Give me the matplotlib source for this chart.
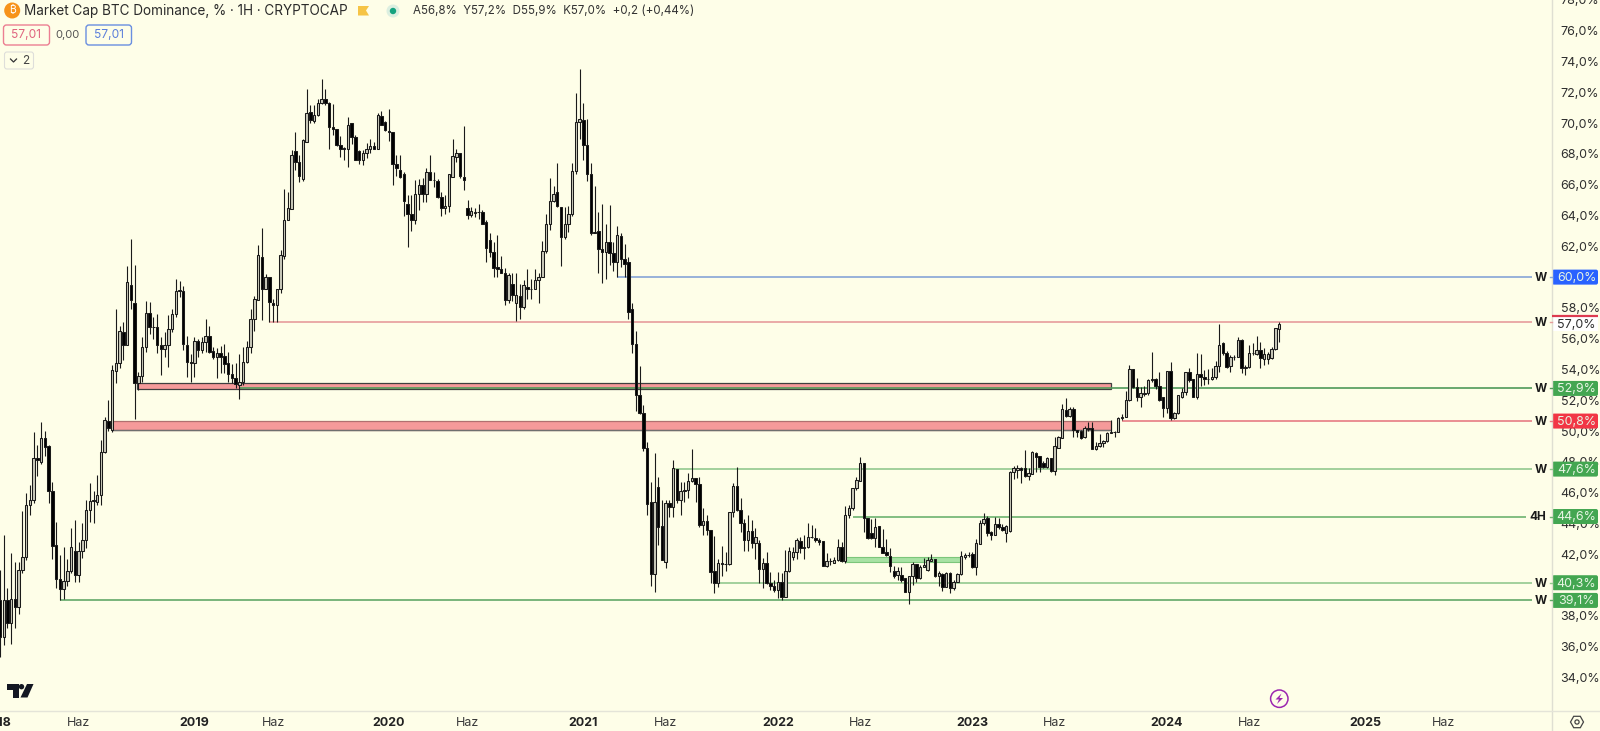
import matplotlib
matplotlib.use("Agg")
import matplotlib.pyplot as plt
from matplotlib.patches import Circle, FancyBboxPatch, Polygon, Rectangle

plt.rcParams["font.family"] = ["Inter", "DejaVu Sans"]

BG = "#fefee8"
TEXT = "#2f2f2f"

# weekly candles, % dominance
opens = [
    39.03, 36.65, 39.03, 37.56, 39.1, 38.55, 41.0, 41.85, 45.2, 45.5,
    48.23, 48.0, 49.55, 49.03, 46.13, 42.6, 40.37, 39.72, 40.24, 40.93,
    42.2, 40.65, 42.2, 42.9, 44.9, 45.45, 45.4, 45.85, 48.65, 50.67,
    50.06, 53.92, 54.4, 56.45, 55.6, 59.5, 58.3, 53.1, 53.57, 55.47,
    57.64, 56.73, 56.77, 55.6, 55.3, 55.6, 56.6, 57.6, 59.1, 59.1,
    55.58, 54.5, 54.4, 55.86, 55.26, 55.8, 56.2, 55.2, 54.83, 55.04,
    54.87, 54.44, 53.7, 53.42, 53.0, 53.2, 54.5, 55.43, 57.3, 58.5,
    61.3, 59.26, 59.98, 58.35, 58.2, 59.2, 61.4, 63.74, 64.4, 68.2,
    67.5, 66.4, 68.8, 70.73, 70.13, 70.56, 71.28, 71.6, 71.34, 69.76,
    69.6, 68.6, 68.4, 68.29, 69.98, 69.11, 68.2, 67.6, 68.07, 68.29,
    68.53, 68.35, 70.45, 70.09, 69.5, 69.44, 67.34, 66.99, 66.69, 64.74,
    64.09, 63.7, 65.43, 65.97, 65.39, 66.8, 66.3, 66.25, 65.22, 64.46,
    64.6, 66.5, 67.8, 68.03, 66.5, 64.5, 64.03, 64.15, 64.2, 64.24,
    63.59, 62.4, 61.65, 60.63, 60.5, 60.24, 58.5, 59.54, 58.33, 58.76,
    58.03, 59.37, 59.2, 59.24, 59.8, 60.02, 61.71, 63.48, 64.93, 65.5,
    64.57, 62.62, 63.48, 64.13, 66.88, 70.09, 70.2, 68.6, 66.73, 62.88,
    62.98, 61.8, 61.6, 62.29, 61.58, 61.0, 62.66, 61.2, 60.95, 57.9,
    55.63, 52.34, 51.15, 48.87, 45.41, 40.71, 46.38, 43.85, 41.5, 45.3,
    45.04, 47.53, 45.52, 46.1, 46.17, 46.77, 46.93, 46.54, 43.9, 44.18,
    43.57, 40.93, 40.15, 41.4, 41.34, 41.34, 44.72, 46.43, 44.87, 44.0,
    42.92, 43.53, 42.7, 42.7, 41.02, 41.4, 40.15, 39.93, 39.67, 40.2,
    39.24, 40.93, 41.85, 42.16, 42.86, 42.38, 42.45, 43.14, 43.03, 42.92,
    42.86, 41.26, 41.58, 41.45, 41.62, 42.49, 41.58, 44.54, 44.98, 46.28,
    46.77, 47.94, 44.33, 43.4, 43.08, 43.83, 42.5, 42.17, 41.89, 40.9,
    40.65, 40.65, 40.44, 39.57, 40.59, 41.35, 40.44, 41.2, 40.98, 41.58,
    41.67, 40.59, 40.7, 39.9, 40.8, 39.79, 40.22, 40.7, 41.8, 41.92,
    42.02, 41.2, 42.67, 44.05, 44.33, 43.47, 43.25, 43.94, 43.8, 43.4,
    43.5, 47.36, 47.5, 47.6, 47.58, 47.1, 47.2, 48.6, 48.38, 47.9,
    47.69, 48.23, 47.43, 48.88, 49.53, 51.37, 50.98, 51.41, 50.07, 50.03,
    49.6, 50.18, 50.18, 48.83, 49.05, 49.2, 49.38, 49.85, 49.92, 49.96,
    50.83, 50.93, 52.02, 54.01, 52.84, 52.2, 52.4, 52.45, 53.32, 53.36,
    52.93, 52.19, 51.48, 53.9, 50.83, 51.15, 52.2, 52.56, 53.81, 53.36,
    52.19, 53.7, 53.49, 53.36, 53.4, 53.49, 54.22, 55.7, 55.09, 54.24,
    54.83, 54.83, 55.91, 54.1, 54.14, 55.05, 54.98, 55.26, 54.7, 54.7,
    54.72, 55.3, 56.63,
]
closes = [
    36.65, 39.03, 37.56, 39.1, 38.55, 41.0, 41.85, 45.2, 45.5, 48.23,
    48.1, 49.55, 48.95, 46.13, 42.56, 40.37, 39.72, 40.24, 40.93, 42.45,
    40.65, 42.2, 42.9, 44.9, 45.45, 45.5, 45.85, 48.65, 50.7, 50.2,
    53.96, 54.44, 56.5, 55.6, 59.7, 58.5, 53.1, 53.57, 55.47, 57.64,
    56.73, 56.77, 55.6, 55.3, 55.6, 56.6, 57.6, 59.1, 59.15, 55.65,
    54.5, 54.4, 55.86, 55.26, 55.8, 56.2, 55.13, 54.83, 55.1, 54.83,
    54.35, 53.7, 53.42, 53.05, 53.2, 54.5, 55.43, 57.3, 58.55, 61.43,
    59.26, 60.0, 58.4, 58.2, 59.2, 61.43, 63.74, 64.46, 67.92, 67.5,
    66.6, 68.9, 70.69, 70.2, 70.56, 71.28, 71.6, 71.28, 69.76, 69.59,
    68.57, 68.35, 68.29, 69.91, 69.11, 67.6, 67.6, 68.03, 68.29, 68.53,
    68.35, 70.52, 69.87, 69.54, 69.44, 67.34, 67.06, 66.5, 64.96, 64.09,
    63.7, 65.43, 65.97, 65.39, 66.84, 66.34, 66.34, 65.22, 64.46, 64.63,
    66.69, 67.86, 68.03, 66.56, 66.34, 64.03, 64.3, 64.2, 64.24, 63.48,
    61.86, 61.65, 60.56, 60.5, 60.24, 58.5, 60.13, 58.83, 58.83, 58.03,
    59.48, 59.2, 59.24, 59.8, 60.02, 61.71, 63.48, 64.93, 65.43, 64.6,
    62.62, 63.48, 64.13, 66.88, 70.09, 70.3, 68.57, 66.69, 62.88, 62.94,
    61.8, 61.65, 62.29, 61.58, 61.0, 62.73, 61.2, 60.85, 57.75, 55.63,
    52.34, 51.15, 48.87, 45.26, 40.71, 45.41, 43.79, 41.62, 45.3, 45.09,
    47.58, 45.52, 46.1, 46.17, 46.77, 46.93, 46.56, 43.9, 44.18, 43.57,
    40.87, 40.15, 41.4, 41.34, 41.34, 44.72, 46.43, 44.87, 44.0, 42.92,
    43.53, 42.7, 43.1, 41.02, 41.4, 40.15, 39.93, 39.67, 40.2, 39.24,
    40.93, 42.23, 42.16, 42.92, 42.38, 42.45, 43.14, 43.14, 42.92, 42.82,
    41.26, 41.58, 41.58, 41.62, 42.45, 41.58, 44.54, 44.98, 46.28, 46.82,
    47.9, 44.33, 43.08, 43.08, 43.79, 42.5, 42.1, 41.95, 41.24, 40.59,
    40.94, 40.33, 39.57, 40.59, 41.37, 40.44, 41.2, 41.3, 41.63, 41.67,
    40.59, 40.76, 39.9, 40.8, 39.79, 40.22, 40.7, 41.89, 41.95, 41.95,
    41.2, 42.75, 44.05, 44.27, 43.36, 43.25, 43.94, 43.75, 43.58, 43.83,
    47.36, 47.58, 47.62, 47.47, 47.1, 47.26, 48.62, 48.34, 47.69, 47.69,
    48.23, 47.43, 49.05, 49.59, 51.41, 50.98, 51.41, 50.07, 49.96, 49.53,
    50.18, 50.13, 48.83, 49.05, 49.2, 49.38, 49.85, 49.92, 49.96, 50.83,
    50.93, 52.02, 54.01, 52.84, 52.23, 52.49, 52.49, 53.32, 53.36, 52.93,
    52.02, 51.48, 53.9, 50.83, 51.15, 52.34, 52.56, 53.81, 53.31, 52.23,
    53.7, 53.53, 53.36, 53.38, 53.49, 54.22, 55.59, 55.05, 54.18, 54.83,
    54.83, 55.91, 54.07, 54.14, 55.05, 55.05, 55.26, 54.72, 54.98, 55.0,
    55.33, 56.67, 56.95,
]
highs = [
    41.0, 43.25, 39.8, 42.1, 41.5, 41.5, 44.8, 46.0, 46.5, 49.95,
    49.1, 50.6, 50.0, 49.1, 46.7, 44.1, 41.95, 42.5, 41.7, 43.7,
    44.2, 42.8, 44.0, 45.5, 46.65, 46.1, 47.15, 49.4, 50.9, 52.0,
    54.3, 57.9, 56.84, 57.1, 60.7, 62.45, 60.8, 53.85, 56.1, 58.44,
    58.4, 57.4, 57.6, 56.1, 56.45, 57.53, 57.9, 59.9, 59.74, 59.4,
    56.2, 55.0, 56.1, 56.0, 56.1, 57.27, 56.8, 55.47, 55.37, 55.5,
    55.65, 55.15, 54.35, 54.4, 55.0, 55.47, 55.86, 57.96, 58.76, 62.08,
    63.2, 60.2, 59.98, 58.6, 59.26, 61.75, 65.7, 65.5, 68.25, 69.44,
    67.9, 68.95, 72.2, 71.17, 71.2, 71.54, 72.9, 72.2, 71.4, 71.27,
    69.65, 69.15, 68.42, 70.37, 70.02, 69.2, 68.25, 68.25, 68.72, 68.94,
    68.8, 70.67, 70.8, 70.15, 70.89, 69.44, 67.92, 67.92, 66.84, 65.32,
    65.32, 66.34, 66.4, 66.47, 67.12, 67.92, 66.84, 66.4, 65.54, 65.32,
    66.73, 68.94, 68.35, 68.07, 69.8, 65.04, 64.57, 64.46, 64.78, 64.35,
    63.74, 62.88, 62.3, 62.73, 61.36, 60.56, 60.24, 60.24, 60.24, 59.54,
    59.8, 60.5, 59.9, 60.5, 60.24, 62.36, 64.09, 66.47, 65.9, 67.38,
    64.57, 64.57, 64.61, 67.38, 71.97, 73.55, 71.32, 70.24, 67.42, 65.9,
    64.2, 64.74, 63.48, 64.67, 62.29, 63.31, 62.88, 62.14, 61.32, 58.33,
    56.5, 54.22, 51.69, 49.3, 46.71, 48.59, 46.99, 45.52, 45.52, 45.52,
    48.12, 47.53, 46.71, 46.71, 47.3, 48.81, 46.93, 46.99, 44.98, 44.54,
    43.57, 43.18, 41.69, 42.53, 42.16, 44.72, 46.65, 47.64, 45.63, 44.26,
    44.54, 44.22, 43.68, 42.92, 41.73, 42.16, 40.87, 40.32, 40.87, 40.76,
    42.27, 42.45, 42.5, 43.03, 43.14, 43.25, 44.0, 43.9, 43.68, 43.03,
    42.86, 42.1, 41.78, 41.84, 42.96, 42.8, 45.15, 45.2, 46.3, 47.03,
    48.33, 47.94, 44.33, 44.27, 44.33, 43.83, 43.62, 43.0, 42.4, 41.24,
    41.15, 41.2, 40.44, 40.59, 41.52, 41.37, 41.3, 41.74, 41.84, 42.0,
    41.67, 40.94, 40.76, 40.87, 40.87, 40.33, 40.76, 42.23, 42.1, 42.17,
    42.17, 42.97, 44.23, 44.7, 44.5, 43.5, 44.4, 44.33, 43.97, 43.9,
    47.4, 47.73, 47.8, 47.65, 48.77, 47.58, 48.7, 48.66, 48.38, 48.08,
    48.34, 48.23, 49.63, 49.68, 51.76, 52.12, 51.58, 51.58, 50.07, 50.07,
    50.3, 50.61, 50.61, 49.31, 49.79, 49.42, 49.96, 50.72, 50.03, 50.89,
    51.11, 52.62, 54.29, 54.01, 53.42, 52.84, 52.93, 53.36, 55.15, 53.42,
    53.86, 52.19, 53.9, 54.46, 51.26, 52.34, 52.77, 53.86, 54.07, 53.36,
    55.05, 54.98, 53.96, 54.0, 54.07, 54.57, 56.95, 55.8, 55.22, 54.94,
    54.94, 56.09, 56.0, 54.29, 55.59, 55.7, 56.17, 55.8, 55.37, 55.15,
    55.48, 56.67, 57.06,
]
lows = [
    35.35, 36.1, 37.2, 36.2, 37.2, 38.1, 40.8, 41.6, 44.55, 45.3,
    47.1, 47.85, 48.35, 45.3, 41.7, 39.8, 39.03, 39.1, 39.95, 40.8,
    40.2, 40.2, 41.75, 42.4, 44.1, 44.0, 45.2, 45.2, 48.55, 50.0,
    49.95, 53.1, 54.07, 54.6, 55.6, 57.96, 50.8, 52.65, 53.2, 55.15,
    56.3, 56.0, 55.04, 53.64, 54.8, 54.13, 56.45, 57.4, 58.72, 55.26,
    53.5, 53.2, 53.5, 54.8, 55.1, 55.15, 55.1, 54.7, 53.46, 53.8,
    53.74, 53.16, 53.1, 52.77, 52.08, 53.0, 54.4, 55.04, 56.5, 58.5,
    57.2, 59.2, 57.1, 57.1, 57.1, 59.0, 61.2, 63.74, 64.4, 66.95,
    66.2, 66.25, 68.8, 69.98, 70.0, 70.45, 71.23, 71.2, 68.35, 69.2,
    68.5, 67.77, 67.6, 67.16, 68.64, 67.6, 67.34, 67.27, 67.75, 68.07,
    68.29, 68.29, 69.87, 69.5, 68.85, 65.97, 66.56, 66.47, 64.0, 61.93,
    63.0, 63.48, 64.35, 64.9, 64.9, 66.3, 65.86, 65.17, 63.96, 64.09,
    64.2, 66.5, 67.49, 66.47, 65.69, 63.8, 63.92, 63.92, 63.8, 63.44,
    61.0, 61.32, 59.98, 59.98, 60.24, 58.2, 58.3, 58.46, 57.16, 57.3,
    57.96, 58.6, 58.6, 59.2, 58.33, 60.02, 61.54, 63.09, 64.89, 64.57,
    60.74, 62.5, 62.94, 63.96, 66.69, 69.0, 67.6, 66.25, 62.73, 62.88,
    60.24, 59.59, 59.91, 60.78, 60.39, 59.98, 60.67, 60.02, 57.3, 55.1,
    51.32, 51.1, 48.72, 44.54, 39.93, 39.57, 42.6, 41.62, 41.08, 44.44,
    44.44, 45.35, 44.54, 45.41, 45.63, 46.71, 45.41, 43.79, 43.25, 43.25,
    40.15, 39.5, 39.89, 40.58, 40.93, 41.3, 44.39, 44.83, 43.46, 42.23,
    42.23, 42.38, 41.67, 40.15, 39.78, 40.06, 39.67, 39.57, 39.13, 39.03,
    39.2, 40.82, 41.62, 41.69, 42.05, 41.67, 42.38, 43.03, 42.8, 42.6,
    41.26, 41.2, 41.3, 41.4, 41.55, 41.5, 41.45, 44.33, 44.9, 46.17,
    46.77, 43.46, 43.0, 43.0, 42.5, 42.5, 42.06, 41.9, 40.87, 40.44,
    40.33, 40.22, 39.57, 38.77, 40.0, 40.22, 40.37, 41.15, 40.93, 41.58,
    40.5, 39.94, 39.64, 39.94, 39.5, 39.68, 40.22, 40.65, 41.67, 41.85,
    41.09, 40.65, 42.67, 43.9, 43.19, 42.93, 43.25, 43.62, 43.53, 42.77,
    43.47, 46.87, 46.93, 46.65, 47.04, 46.82, 47.2, 47.36, 47.32, 47.58,
    47.58, 47.36, 47.15, 48.88, 49.53, 50.93, 50.93, 49.64, 49.59, 49.46,
    49.53, 50.03, 48.83, 48.77, 48.99, 48.99, 49.31, 49.9, 49.59, 49.96,
    50.72, 50.89, 51.97, 52.77, 51.97, 51.58, 52.28, 52.34, 53.21, 52.71,
    51.97, 50.89, 51.15, 50.72, 50.76, 51.1, 52.12, 52.34, 53.21, 52.19,
    52.08, 52.93, 52.99, 53.06, 53.32, 53.38, 53.86, 54.94, 54.07, 53.86,
    54.61, 54.79, 53.79, 53.64, 54.07, 54.94, 54.94, 54.07, 54.29, 54.35,
    54.66, 55.26, 55.8,
]

# 40 and 60 sit fully under their price badges in the reference
y_ticks = [34, 36, 38, 42, 44, 46, 48, 50, 52, 54, 56, 58, 62, 64, 66, 68, 70, 72, 74, 76, 78]
x_tick_pos = [-1, 21, 52, 73, 104, 125, 156, 178, 208, 230, 260, 282, 312, 334, 365, 386]
x_tick_labels = ["2018", "Haz", "2019", "Haz", "2020", "Haz", "2021", "Haz", "2022", "Haz", "2023", "Haz", "2024", "Haz", "2025", "Haz"]

level_prices = [60.0, 52.77, 50.65, 47.53, 44.45, 40.15, 39.0]
level_starts = [165, 64, 300, 180.5, 228, 191.6, 16]
level_ends = [409.6, 409.6, 409.6, 409.6, 408, 409.6, 409.6]
level_colors = ["#86a4d6", "#4f9a5a", "#e67c84", "#93c98f", "#6db36f", "#93c98f", "#62a868"]
level_tags = ["W", "W", "W", "W", "4H", "W", "W"]
level_labels = ["60,0%", "52,9%", "50,8%", "47,6%", "44,6%", "40,3%", "39,1%"]
badge_colors = ["#2962ff", "#43a651", "#f23645", "#43a651", "#43a651", "#43a651", "#43a651"]

resistance_price = 57.06
resistance_start = 72
last_price_marker = 57.49

fig = plt.figure(figsize=(16, 7.31), dpi=100, facecolor=BG)
ax = fig.add_axes([0, 20.5 / 731, 1552 / 1600, 710.5 / 731], facecolor=BG)
ax.set_xlim(0, 1552 / 3.74)
ax.set_ylim(31.85, 77.99)

# zones
ax.add_patch(Rectangle((36.5, 52.75), 260.5, 0.4, facecolor="#f59a9a", edgecolor="#3f3f3f", linewidth=0.9, zorder=1))
ax.add_patch(Rectangle((30, 50.07), 267, 0.6, facecolor="#f59a9a", edgecolor="#b07070", linewidth=0.9, zorder=1))
ax.hlines(50.07, 30, 297, color="#6f6f6f", linewidth=1, zorder=1.1)
ax.add_patch(Rectangle((226, 41.52), 31, 0.32, facecolor="#a8e2a4", edgecolor="#7cc67a", linewidth=0.8, zorder=1))

# levels
ax.hlines(resistance_price, resistance_start, 409.6, color="#e79c9c", linewidth=1.2, zorder=1.5)
ax.hlines(level_prices, level_starts, level_ends, colors=level_colors, linewidth=1.2, zorder=1.5)

# candles
xs = list(range(len(closes)))
ax.vlines(xs, lows, highs, color="#1a1a1a", linewidth=0.8, zorder=2)
bottoms = [min(o, c) for o, c in zip(opens, closes)]
heights = [abs(c - o) for o, c in zip(opens, closes)]
face = ["#c9c9ba" if c >= o else "#000000" for o, c in zip(opens, closes)]
ax.bar(xs, heights, bottom=bottoms, width=0.66, color=face, edgecolor="#1a1a1a", linewidth=0.75, zorder=3)

ax.yaxis.tick_right()
ax.set_yticks(y_ticks)
ax.set_yticklabels([f"{v},0%" for v in y_ticks], fontsize=9, color=TEXT)
ax.tick_params(axis="y", length=0, pad=6.2)
ax.set_xticks([])
for s in ax.spines.values():
    s.set_visible(False)

for x, lab in zip(x_tick_pos, x_tick_labels):
    bold = lab != "Haz"
    ax.annotate(lab, (x, 0), xycoords=("data", "axes fraction"), xytext=(0, -9), textcoords="offset points",
                ha="center", va="center", fontsize=9, fontweight="bold" if bold else "normal",
                color="#222222" if bold else "#3a3a3a", annotation_clip=False)

# everything around the plot, in figure pixels
ui = fig.add_axes([0, 0, 1, 1], zorder=5)
ui.set_xlim(0, 1600)
ui.set_ylim(731, 0)
ui.axis("off")


def price_px(p):
    return 731 - ax.transData.transform((0, p))[1]


def rounded(x0, y0, w, h, face, edge, lw=1.0, r=2.5):
    ui.add_patch(FancyBboxPatch((x0, y0), w, h, boxstyle=f"round,pad=0,rounding_size={r}",
                                facecolor=face, edgecolor=edge, linewidth=lw))


ui.plot([1552, 1552], [0, 731], color="#dfdfd2", linewidth=1)
ui.plot([0, 1600], [710.5, 710.5], color="#e4e4d8", linewidth=1)

# price badges
for p, tag, lab, col, lc in zip(level_prices, level_tags, level_labels, badge_colors, level_colors):
    y = price_px(p)
    rounded(1552, y - 7.5, 46, 15, col, col, lw=0, r=2)
    ui.text(1576.5, y + 0.8, lab, color="#e8f5e4", fontsize=9, ha="center", va="center")
    ui.text(1538 if tag == "4H" else 1540.7, y + 0.8, tag, color="#1a1a1a", fontsize=8.5, fontweight="bold", ha="center", va="center")
    ui.plot([1549.5, 1552], [y, y], color=lc, linewidth=1)

y57 = price_px(resistance_price)
ui.add_patch(Rectangle((1553, y57 - 5), 45, 14, facecolor="#ffffff", edgecolor="none"))
ui.text(1576.5, y57 + 2.6, "57,0%", color=TEXT, fontsize=9, ha="center", va="center")
ui.text(1540.7, y57 + 0.8, "W", color="#1a1a1a", fontsize=8.5, fontweight="bold", ha="center", va="center")
ui.plot([1549.5, 1552], [y57, y57], color="#e79c9c", linewidth=1)
ym = price_px(last_price_marker)
ui.plot([1552, 1598], [ym, ym], color="#dd3b50", linewidth=1.6, solid_capstyle="butt")

# header
ui.add_patch(Circle((12.2, 10.5), 8, facecolor="#f7931a", edgecolor="none"))
ui.text(12.2, 10.5, "₿", color="#ffffff", fontsize=7.5, ha="center", va="center",
        family=["Inter", "Noto Sans", "Roboto", "Open Sans", "Lato", "Liberation Sans", "DejaVu Sans"])
ui.text(24, 11, "Market Cap BTC Dominance, % · 1H · CRYPTOCAP", color="#2b2b2b", fontsize=9.75, ha="left", va="center")
ui.add_patch(Polygon([(358, 6), (369, 6), (366, 10.5), (369, 15.5), (358, 15.5)], facecolor="#f6c445", edgecolor="none"))
ui.add_patch(Circle((393, 11), 6.5, facecolor="#dcefe0", edgecolor="none"))
ui.add_patch(Circle((393, 11), 3.2, facecolor="#15a37f", edgecolor="none"))
ui.text(413, 10.5, "A56,8%  Y57,2%  D55,9%  K57,0%  +0,2 (+0,44%)", color="#333333", fontsize=8.3, ha="left", va="center")

rounded(3.5, 25, 46, 20, BG, "#ec7f92", lw=1, r=3)
ui.text(26.5, 35.5, "57,01", color="#e0647f", fontsize=8.6, ha="center", va="center")
ui.text(67, 35.5, "0,00", color="#555555", fontsize=8, ha="center", va="center")
rounded(86, 25, 45.5, 20, BG, "#6a8fe0", lw=1, r=3)
ui.text(108.7, 35.5, "57,01", color="#5b7fdb", fontsize=8.6, ha="center", va="center")
rounded(4.5, 52, 29, 17, BG, "#dededa", lw=0.8, r=2.5)
ui.plot([10.5, 13.5, 16.5], [59, 62, 59], color="#333333", linewidth=0.9)
ui.text(25.5, 60.5, "2", color="#444444", fontsize=8.5, ha="center", va="center")

# tradingview logo
ui.add_patch(Polygon([(7, 684), (18.5, 684), (18.5, 697.5), (12.5, 697.5), (12.5, 689.5), (7, 689.5)], facecolor="#131722", edgecolor="none"))
ui.add_patch(Circle((21.5, 686.7), 2.7, facecolor="#131722", edgecolor="none"))
ui.add_patch(Polygon([(27, 684), (33.5, 684), (27.5, 697.5), (20.5, 697.5)], facecolor="#131722", edgecolor="none"))

# lightning button
ui.add_patch(Circle((1279.3, 698.7), 8.7, facecolor=BG, edgecolor="#9c27b0", linewidth=1.1))
ui.add_patch(Polygon([(1281.5, 693.5), (1275.5, 699.5), (1279, 699.5), (1277, 704), (1283, 698), (1279.5, 698)], facecolor="#9c27b0", edgecolor="none"))

# settings hexagon
ui.add_patch(Polygon([(1570.5, 722), (1573.7, 716.3), (1580.3, 716.3), (1583.5, 722), (1580.3, 727.7), (1573.7, 727.7)],
                     facecolor="none", edgecolor="#444444", linewidth=0.9))
ui.add_patch(Circle((1577, 722), 2.1, facecolor="none", edgecolor="#444444", linewidth=0.9))

fig.savefig("out.png", dpi=100, facecolor=BG)
